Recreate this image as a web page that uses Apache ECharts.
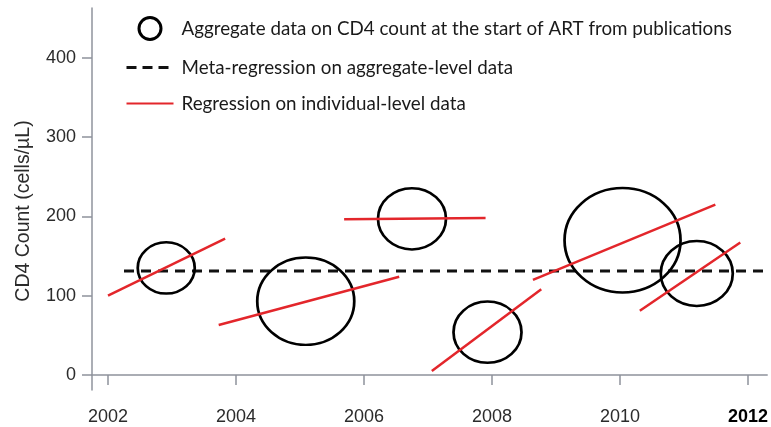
<!DOCTYPE html>
<html>
<head>
    <meta charset="utf-8">
    <title>CD4 count at ART start</title>
    <style>
        html, body { margin: 0; padding: 0; background: #fff; }
    </style>
</head>
<body>
    <div id="main" style="width:771px;height:427px"></div>
    <script src="https://cdn.jsdelivr.net/npm/echarts@6/dist/echarts.min.js"></script>
    <script type="text/javascript">

        // aggregate data (circles)
        const BUBBLE_YEAR = [2002.91, 2005.09, 2006.75, 2007.93, 2010.04, 2011.2];
        const BUBBLE_CD4 = [135, 93, 197, 54, 170, 128];
        const BUBBLE_WEIGHT = [57, 97, 68, 68, 116, 72];

        // meta-regression on aggregate data
        const META_YEAR = [2002.25, 2012.3];
        const META_CD4 = [131, 131];

        // individual-level regressions, one segment per study
        const REG_START_YEAR = [2002.0, 2003.73, 2005.69, 2007.06, 2008.64, 2010.31];
        const REG_START_CD4 = [100, 63, 196.5, 5, 120, 81];
        const REG_END_YEAR = [2003.83, 2006.55, 2007.9, 2008.77, 2011.49, 2011.88];
        const REG_END_CD4 = [172, 124, 198, 108, 215, 167];

        const X_TICKS = [2002, 2004, 2006, 2008, 2010, 2012];
        const Y_TICKS = [0, 100, 200, 300, 400];

        const NAME_AGG = 'Aggregate data on CD4 count at the start of ART from publications';
        const NAME_META = 'Meta-regression on aggregate-level data';
        const NAME_REG = 'Regression on individual-level data';

        const RED = '#e3262b';
        const AXIS_GREY = '#8f939c';

        let myChart = echarts.init(document.getElementById('main'));

        let bubbles = BUBBLE_YEAR.map(function (yr, i) {
            return [yr, BUBBLE_CD4[i], BUBBLE_WEIGHT[i]];
        });

        let series = [];
        series.push({
            name: NAME_AGG,
            type: 'scatter',
            data: bubbles,
            symbol: 'circle',
            symbolSize: function (val) {
                return [val[2], val[2] * 0.9];
            },
            itemStyle: {
                color: 'transparent',
                borderColor: '#000',
                borderWidth: 2.6,
                opacity: 1
            },
            z: 2
        });
        series.push({
            name: NAME_META,
            type: 'line',
            data: META_YEAR.map(function (yr, i) { return [yr, META_CD4[i]]; }),
            symbol: 'none',
            color: '#111',
            lineStyle: { color: '#111', width: 3, type: [10, 7] },
            z: 1
        });
        for (let i = 0; i < REG_START_YEAR.length; i++) {
            series.push({
                name: NAME_REG,
                type: 'line',
                data: [[REG_START_YEAR[i], REG_START_CD4[i]], [REG_END_YEAR[i], REG_END_CD4[i]]],
                symbol: 'none',
                color: RED,
                lineStyle: { color: RED, width: 2.5 },
                z: 3
            });
        }

        const option = {
            animation: false,
            grid: { left: 92, top: 8, right: 0, bottom: 37 },
            legend: {
                orient: 'vertical',
                left: 120,
                top: 11,
                itemWidth: 47,
                itemHeight: 22,
                itemGap: 17,
                selectedMode: false,
                data: [
                    { name: NAME_AGG, itemStyle: { borderWidth: 3 } },
                    { name: NAME_META, itemStyle: { opacity: 0 }, lineStyle: { type: [10, 6], width: 3 } },
                    { name: NAME_REG, itemStyle: { opacity: 0 } }
                ],
                textStyle: {
                    fontFamily: 'Lato',
                    fontSize: 18.8,
                    color: '#1a1a1a',
                    padding: [0, 0, 0, 3]
                }
            },
            xAxis: {
                type: 'value',
                min: 2001.75,
                max: 2012.3,
                splitLine: { show: false },
                axisLine: { lineStyle: { color: AXIS_GREY, width: 1.5 } },
                axisTick: {
                    customValues: X_TICKS,
                    length: 10,
                    lineStyle: { color: AXIS_GREY, width: 1.5 }
                },
                axisLabel: {
                    customValues: X_TICKS,
                    margin: 18,
                    fontFamily: 'Liberation Sans',
                    fontSize: 18,
                    color: '#2b2b2b',
                    formatter: function (v) {
                        return v === 2012 ? '{b|' + v + '}' : String(v);
                    },
                    rich: {
                        b: { fontWeight: 'bold', color: '#000', fontSize: 18, fontFamily: 'Liberation Sans' }
                    }
                }
            },
            yAxis: {
                type: 'value',
                min: -19,
                max: 463,
                name: 'CD4 Count (cells/µL)',
                nameLocation: 'middle',
                nameGap: 58,
                nameTextStyle: {
                    fontFamily: 'Liberation Sans',
                    fontSize: 19.5,
                    color: '#2b2b2b',
                    padding: [0, 24, 0, 0]
                },
                splitLine: { show: false },
                axisLine: { show: true, lineStyle: { color: AXIS_GREY, width: 1.5 } },
                axisTick: {
                    show: true,
                    customValues: Y_TICKS,
                    length: 10,
                    lineStyle: { color: AXIS_GREY, width: 1.5 }
                },
                axisLabel: {
                    customValues: Y_TICKS,
                    margin: 16,
                    fontFamily: 'Liberation Sans',
                    fontSize: 18,
                    color: '#2b2b2b'
                }
            },
            series: series
        };

        myChart.setOption(option);

    </script>
</body>
</html>
